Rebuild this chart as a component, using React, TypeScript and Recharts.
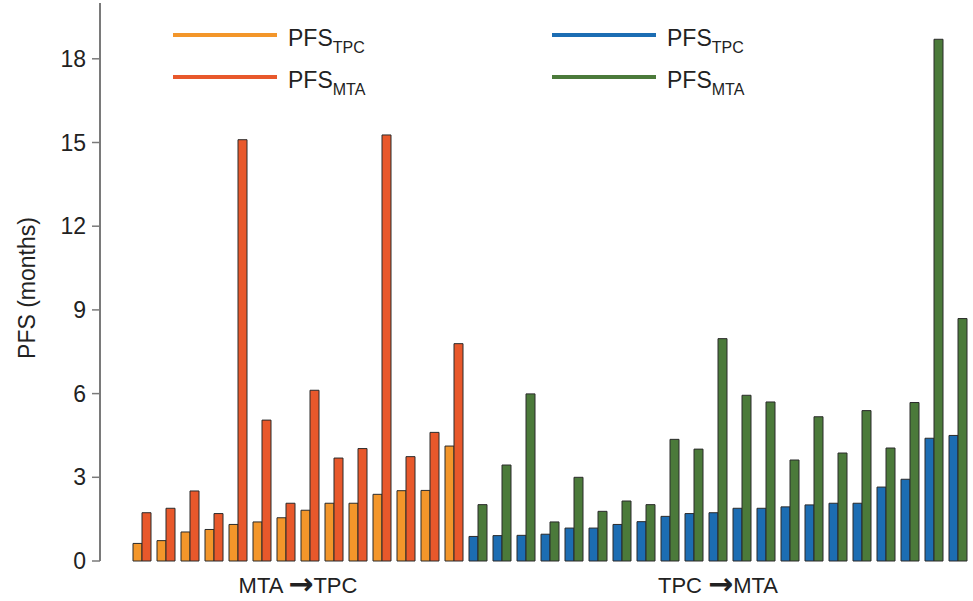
import React from 'react';
import {
  BarChart,
  Bar,
  Cell,
  XAxis,
  YAxis,
} from 'recharts';

const FONT = '"Liberation Sans", Arial, Helvetica, sans-serif';

// MTA -> TPC patients (PFS in months)
const mtaFirstTpc = [0.63, 0.73, 1.04, 1.13, 1.31, 1.4, 1.55, 1.82, 2.07, 2.07, 2.39, 2.52, 2.53, 4.12];
const mtaFirstMta = [1.73, 1.89, 2.51, 1.7, 15.1, 5.05, 2.07, 6.12, 3.69, 4.03, 15.27, 3.74, 4.61, 7.79];

// TPC -> MTA patients
const tpcFirstTpc = [
  0.88, 0.91, 0.92, 0.96, 1.18, 1.18, 1.31, 1.41, 1.6, 1.7, 1.73,
  1.89, 1.89, 1.94, 2.01, 2.07, 2.07, 2.65, 2.93, 4.4, 4.5,
];
const tpcFirstMta = [
  2.02, 3.44, 5.99, 1.4, 3.0, 1.78, 2.15, 2.02, 4.36, 4.01, 7.97,
  5.94, 5.7, 3.62, 5.17, 3.87, 5.39, 4.05, 5.68, 18.7, 8.69,
];

const yTicks = [0, 3, 6, 9, 12, 15, 18];
const groupLabels = [
  ['MTA', 'TPC'],
  ['TPC', 'MTA'],
];

const COLORS = {
  left: { tpc: '#F3962A', mta: '#E8582B' },
  right: { tpc: '#1C6DB3', mta: '#4B7A3A' },
};

const data = [
  ...mtaFirstTpc.map((v, i) => ({ id: `a${i}`, group: 'left', tpc: v, mta: mtaFirstMta[i] })),
  ...tpcFirstTpc.map((v, i) => ({ id: `b${i}`, group: 'right', tpc: v, mta: tpcFirstMta[i] })),
];

const leftCenter = mtaFirstTpc.length / 2 - 1; // tick just left of the middle boundary
const rightCenter = mtaFirstTpc.length + Math.floor(tpcFirstTpc.length / 2);

const GroupTick = (props: any) => {
  const { x, y, index } = props;
  let label: string[] | null = null;
  let shift = 0;
  if (index === leftCenter) {
    label = groupLabels[0];
    shift = 12;
  } else if (index === rightCenter) {
    label = groupLabels[1];
  }
  if (!label) return null;
  return (
    <text x={x + shift} y={y + 24} textAnchor="middle" fontSize={22} fill="#222" fontFamily={FONT}>
      {label[0]}{' '}
      <tspan fontSize={30} fontFamily="DejaVu Sans" fontWeight="bold" dy={1}>{'\u2192'}</tspan>
      <tspan dy={-1}>{label[1]}</tspan>
    </text>
  );
};

const YLabel = (props: any) => {
  const { viewBox } = props;
  const cy = viewBox.y + viewBox.height / 2 + 6;
  return (
    <text
      x={27}
      y={cy}
      transform={`rotate(-90, 27, ${cy})`}
      textAnchor="middle"
      dominantBaseline="central"
      fontSize={23}
      fill="#222"
      fontFamily={FONT}
    >
      PFS (months)
    </text>
  );
};

const legendItems = [
  { sub: 'TPC', color: COLORS.left.tpc, x: 173, y: 35 },
  { sub: 'MTA', color: COLORS.left.mta, x: 173, y: 77 },
  { sub: 'TPC', color: COLORS.right.tpc, x: 552, y: 35 },
  { sub: 'MTA', color: COLORS.right.mta, x: 552, y: 77 },
];

const ChartLegend = () => (
  <svg width={973} height={100} style={{ position: 'absolute', left: 0, top: 0, pointerEvents: 'none' }}>
    {legendItems.map((it, i) => (
      <g key={i}>
        <line x1={it.x} x2={it.x + 104} y1={it.y} y2={it.y} stroke={it.color} strokeWidth={4} />
        <text x={it.x + 115} y={it.y + 11} fontSize={23} fill="#222" fontFamily={FONT}>
          PFS
          <tspan fontSize={16} dy={7}>{it.sub}</tspan>
        </text>
      </g>
    ))}
  </svg>
);

export default function App() {
  return (
    <div style={{ position: 'absolute', left: 0, top: 0, width: 973, height: 601, background: '#fff' }}>
      <BarChart
        width={973}
        height={601}
        data={data}
        margin={{ top: 3, right: 3, bottom: 2, left: 0 }}
        barCategoryGap={3}
        barGap={0}
      >
        <XAxis
          dataKey="id"
          axisLine={false}
          tickLine={false}
          interval={0}
          height={38}
          padding={{ left: 30, right: 0 }}
          tick={<GroupTick />}
        />
        <YAxis
          width={100}
          domain={[0, 20]}
          ticks={yTicks}
          interval={0}
          axisLine={{ stroke: '#7a7a7a', strokeWidth: 2 }}
          tickLine={{ stroke: '#7a7a7a', strokeWidth: 1.5 }}
          tickSize={8}
          tickMargin={6}
          tick={{ fontSize: 23, fill: '#222', fontFamily: FONT }}
          label={<YLabel />}
        />
        <Bar dataKey="tpc" isAnimationActive={false} stroke="#2b2b2b" strokeWidth={1}>
          {data.map((d, i) => (
            <Cell key={`t${i}`} fill={COLORS[d.group as 'left' | 'right'].tpc} />
          ))}
        </Bar>
        <Bar dataKey="mta" isAnimationActive={false} stroke="#2b2b2b" strokeWidth={1}>
          {data.map((d, i) => (
            <Cell key={`m${i}`} fill={COLORS[d.group as 'left' | 'right'].mta} />
          ))}
        </Bar>
      </BarChart>
      <ChartLegend />
    </div>
  );
}
